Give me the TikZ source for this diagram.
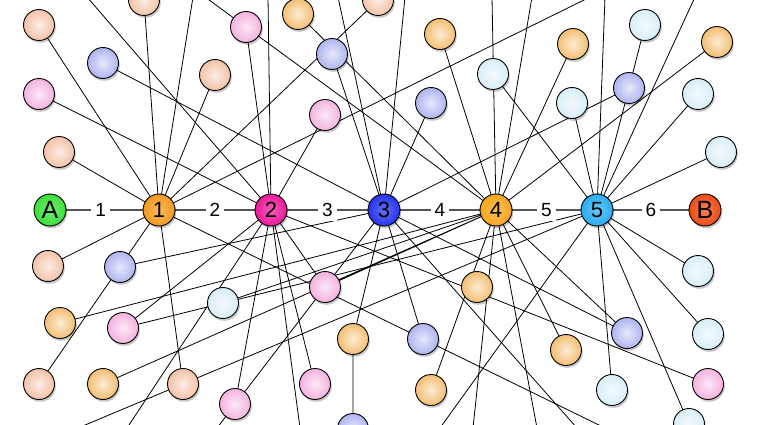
\documentclass[tikz,border=0pt]{standalone}
\usepackage{fontspec}
\setmainfont{Liberation Sans}
\usetikzlibrary{shadows}
\pgfdeclarelayer{bg}
\pgfdeclarelayer{paper}
\pgfsetlayers{paper,bg,main}
\definecolor{cpeach}{HTML}{F4C2A8}
\definecolor{clav}{HTML}{AEB4F0}
\definecolor{cpink}{HTML}{F4B2DE}
\definecolor{corange}{HTML}{F3BE72}
\definecolor{cblue}{HTML}{D8EEF8}
\definecolor{cA}{HTML}{3BE03B}
\definecolor{cone}{HTML}{F39A1E}
\definecolor{ctwo}{HTML}{EC1A9A}
\definecolor{cthree}{HTML}{2433F0}
\definecolor{cfour}{HTML}{F8A51C}
\definecolor{cfive}{HTML}{2AADF2}
\definecolor{cB}{HTML}{EE4A14}
\definecolor{cgrayline}{HTML}{555555}
\tikzset{
  softshadow/.style={drop shadow={shadow xshift=1.3pt, shadow yshift=-2.3pt, opacity=0.22, fill=black}},
  ball/.style={circle, draw=black, line width=0.9pt, minimum size=31pt, inner sep=0pt,
    shading=radial, inner color=white!70!#1, outer color=#1, softshadow},
  hub/.style={circle, draw=black, line width=0.9pt, minimum size=32pt, inner sep=0pt,
    shading=radial, inner color=white!30!#1, outer color=#1,
    font=\fontsize{22}{22}\selectfont, text=black, softshadow},
  endhub/.style={hub=#1, font=\fontsize{25}{25}\selectfont},
  link/.style={black, line width=0.8pt},
  mainline/.style={cgrayline, line width=1.2pt},
  seglabel/.style={fill=white, inner sep=4pt, text=black, font=\fontsize{19}{19}\selectfont}
}
\begin{document}
\begin{tikzpicture}[x=1pt, y=-1pt]
\useasboundingbox (0,0) rectangle (757,425);
\clip (0,0) rectangle (757,425);
\begin{pgfonlayer}{paper}
\fill[white] (0,0) rectangle (757,425);
\end{pgfonlayer}
% hubs
\node[endhub=cA] (A) at (50,210) {A};
\node[hub=cone] (h1) at (159,210) {1};
\node[hub=ctwo] (h2) at (271,210) {2};
\node[hub=cthree] (h3) at (384,210) {3};
\node[hub=cfour] (h4) at (496,210) {4};
\node[hub=cfive] (h5) at (597,210) {5};
\node[endhub=cB] (B) at (705,210) {B};
% peach
\node[ball=cpeach] (p1) at (39,25) {};
\node[ball=cpeach] (p2) at (144,0) {};
\node[ball=cpeach] (p3) at (59,152) {};
\node[ball=cpeach] (p4) at (215,75) {};
\node[ball=cpeach] (p5) at (378,0) {};
\node[ball=cpeach] (p6) at (48,266) {};
\node[ball=cpeach] (p7) at (39,384) {};
\node[ball=cpeach] (p8) at (183,384) {};
% lavender
\node[ball=clav] (l1) at (103,63) {};
\node[ball=clav] (l2) at (332,54) {};
\node[ball=clav] (l3) at (431,103) {};
\node[ball=clav] (l4) at (629,88) {};
\node[ball=clav] (l5) at (120,267) {};
\node[ball=clav] (l6) at (423,339) {};
\node[ball=clav] (l7) at (627,333) {};
\node[ball=clav] (l8) at (353,429) {};
% pink
\node[ball=cpink] (k1) at (39,94) {};
\node[ball=cpink] (k2) at (246,27) {};
\node[ball=cpink] (k3) at (325,115) {};
\node[ball=cpink] (k4) at (123,328) {};
\node[ball=cpink] (k5) at (235,404) {};
\node[ball=cpink] (k6) at (325,287) {};
\node[ball=cpink] (k7) at (315,384) {};
\node[ball=cpink] (k8) at (708,384) {};
% orange
\node[ball=corange] (o1) at (298,14) {};
\node[ball=corange] (o2) at (440,34) {};
\node[ball=corange] (o3) at (573,44) {};
\node[ball=corange] (o4) at (717,42) {};
\node[ball=corange] (o5) at (60,323) {};
\node[ball=corange] (o6) at (103,384) {};
\node[ball=corange] (o7) at (353,339) {};
\node[ball=corange] (o8) at (431,390) {};
\node[ball=corange] (o9) at (477,287) {};
\node[ball=corange] (o10) at (566,350) {};
% light blue
\node[ball=cblue] (b1) at (493,74) {};
\node[ball=cblue] (b2) at (645,25) {};
\node[ball=cblue] (b3) at (572,103) {};
\node[ball=cblue] (b4) at (698,94) {};
\node[ball=cblue] (b5) at (721,152) {};
\node[ball=cblue] (b6) at (223,303) {};
\node[ball=cblue] (b7) at (698,271) {};
\node[ball=cblue] (b8) at (708,334) {};
\node[ball=cblue] (b9) at (612,390) {};
\node[ball=cblue] (b10) at (689,424) {};
% off-picture ends
\coordinate (t87) at (87,-3);
\coordinate (t193) at (193,-3);
\coordinate (t205) at (205,-3);
\coordinate (t268) at (268,-3);
\coordinate (t338) at (338,-3);
\coordinate (t405) at (405,-3);
\coordinate (t492) at (492,-3);
\coordinate (t532) at (532,-3);
\coordinate (t590) at (590,-3);
\coordinate (t605) at (605,-3);
\coordinate (t695) at (695,-3);
\coordinate (d78) at (78,428);
\coordinate (d127) at (127,428);
\coordinate (d217) at (217,428);
\coordinate (d300) at (300,428);
\coordinate (d440) at (440,428);
\coordinate (d473) at (473,428);
\coordinate (d537) at (537,428);
\coordinate (d577) at (577,428);
\coordinate (d605) at (605,428);
\begin{pgfonlayer}{bg}
% hub 1
\draw[link] (h1.center)--(p1.center) (h1.center)--(p2.center) (h1.center)--(t193)
  (h1.center)--(p4.center) (h1.center)--(p3.center) (h1.center)--(p5.center)
  (h1.center)--(t590) (h1.center)--(p6.center) (h1.center)--(p7.center)
  (h1.center)--(p8.center) (h1.center)--(l6.center) (l6.center)--(d605);
% hub 2
\draw[link] (h2.center)--(t87) (h2.center)--(k1.center) (h2.center)--(k2.center)
  (h2.center)--(t268) (h2.center)--(k3.center) (h2.center)--(k4.center)
  (h2.center)--(d127) (h2.center)--(k5.center) (h2.center)--(d300)
  (h2.center)--(k7.center) (h2.center)--(k6.center) (h2.center)--(k8.center);
% hub 3
\draw[link] (h3.center)--(l1.center) (h3.center)--(t338) (h3.center)--(l2.center)
  (h3.center)--(t405) (h3.center)--(l3.center) (h3.center)--(l4.center)
  (h3.center)--(l5.center) (h3.center)--(k6.center) (h3.center)--(o7.center)
  (o7.center)--(l8.center) (h3.center)--(l6.center) (h3.center)--(d577)
  (h3.center)--(l7.center) (h3.center)--(d217);
% hub 4
\draw[link] (h4.center)--(t205) (h4.center)--(o1.center) (h4.center)--(o2.center)
  (h4.center)--(t492) (h4.center)--(t532) (h4.center)--(o3.center)
  (h4.center)--(o4.center) (h4.center)--(o5.center) (h4.center)--(b6.center)
  (h4.center)--(o6.center) (h4.center)--(k6.center) (h4.center)--(d473)
  (h4.center)--(o8.center) (h4.center)--(d537) (h4.center)--(o10.center)
  (h4.center)--(l7.center);
% hub 5
\draw[link] (h5.center)--(t605) (h5.center)--(l4.center) (l4.center)--(b2.center)
  (h5.center)--(b3.center) (h5.center)--(b1.center) (h5.center)--(t695)
  (h5.center)--(b4.center) (h5.center)--(b5.center) (h5.center)--(b7.center)
  (h5.center)--(b8.center) (h5.center)--(b9.center) (h5.center)--(b10.center)
  (h5.center)--(d440) (h5.center)--(d78) (h5.center)--(k4.center);
% main chain
\draw[mainline] (A) -- node[seglabel, pos=0.45] {1} (h1)
  -- node[seglabel] {2} (h2)
  -- node[seglabel] {3} (h3)
  -- node[seglabel] {4} (h4)
  -- node[seglabel] {5} (h5)
  -- node[seglabel] {6} (B);
\end{pgfonlayer}
\end{tikzpicture}
\end{document}
